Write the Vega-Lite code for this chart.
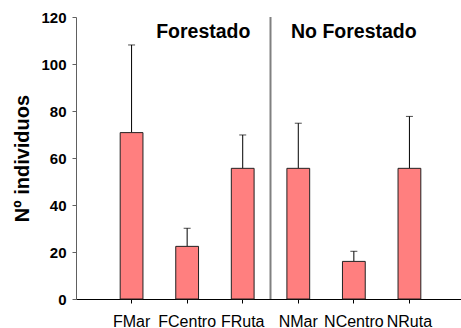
{
  "$schema": "https://vega.github.io/schema/vega-lite/v6.json",
  "width": 389,
  "height": 282,
  "padding": {"left": 12, "top": 10, "right": 0, "bottom": 0},
  "autosize": {"type": "pad"},
  "background": "white",
  "config": {"view": {"stroke": null}, "font": "Liberation Sans"},
  "datasets": {
    "bars": [
      {"sitio": "FMar", "media": 70.8, "sup": 108.1},
      {"sitio": "FCentro", "media": 22.4, "sup": 30.1},
      {"sitio": "FRuta", "media": 55.6, "sup": 69.8},
      {"sitio": "NMar", "media": 55.6, "sup": 74.8},
      {"sitio": "NCentro", "media": 16.0, "sup": 20.3},
      {"sitio": "NRuta", "media": 55.6, "sup": 77.7}
    ],
    "sep": [{"sitio": "FRuta", "y0": 0, "y1": 120}],
    "lab1": [{"sitio": "FCentro", "y": 113.5, "texto": "Forestado"}],
    "lab2": [{"sitio": "NCentro", "y": 113.5, "texto": "No Forestado"}]
  },
  "encoding": {
    "x": {
      "field": "sitio",
      "type": "nominal",
      "sort": ["FMar", "FCentro", "FRuta", "NMar", "NCentro", "NRuta"],
      "scale": {"paddingInner": 0, "paddingOuter": 0.5},
      "axis": {
        "title": null,
        "labelAngle": 0,
        "labelFontSize": 16,
        "labelColor": "black",
        "labelPadding": 10,
        "tickSize": 4,
        "tickColor": "black",
        "domainColor": "black",
        "grid": false
      }
    }
  },
  "layer": [
    {
      "data": {"name": "sep"},
      "mark": {"type": "rule", "color": "#808080", "strokeWidth": 2},
      "encoding": {
        "x": {"field": "sitio", "type": "nominal", "sort": ["FMar", "FCentro", "FRuta", "NMar", "NCentro", "NRuta"], "bandPosition": 1},
        "y": {"field": "y0", "type": "quantitative"},
        "y2": {"field": "y1"}
      }
    },
    {
      "data": {"name": "bars"},
      "mark": {"type": "rule", "color": "black", "strokeWidth": 1},
      "encoding": {
        "y": {"field": "media", "type": "quantitative"},
        "y2": {"field": "sup"}
      }
    },
    {
      "data": {"name": "bars"},
      "mark": {"type": "tick", "color": "black", "thickness": 1, "size": 7, "orient": "horizontal"},
      "encoding": {
        "y": {"field": "sup", "type": "quantitative"}
      }
    },
    {
      "data": {"name": "bars"},
      "mark": {"type": "bar", "fill": "#FF7F7F", "stroke": "#222", "strokeWidth": 1, "width": {"band": 0.41}},
      "encoding": {
        "y": {
          "field": "media",
          "type": "quantitative",
          "scale": {"domain": [0, 120], "nice": false},
          "axis": {
            "title": "Nº individuos",
            "titleFontSize": 20,
            "titleFontWeight": "bold",
            "titleColor": "black",
            "titlePadding": 8,
            "values": [0, 20, 40, 60, 80, 100, 120],
            "labelFontSize": 15,
            "labelFontWeight": "bold",
            "labelColor": "black",
            "labelPadding": 6,
            "tickSize": 4,
            "tickColor": "#606060",
            "domainColor": "#606060",
            "grid": false
          }
        }
      }
    },
    {
      "data": {"name": "lab1"},
      "mark": {"type": "text", "fontSize": 19.5, "fontWeight": "bold", "color": "black", "baseline": "middle", "align": "center"},
      "encoding": {
        "x": {"field": "sitio", "type": "nominal", "sort": ["FMar", "FCentro", "FRuta", "NMar", "NCentro", "NRuta"], "bandPosition": 0.79},
        "y": {"field": "y", "type": "quantitative"},
        "text": {"field": "texto"}
      }
    },
    {
      "data": {"name": "lab2"},
      "mark": {"type": "text", "fontSize": 19.5, "fontWeight": "bold", "color": "black", "baseline": "middle", "align": "center"},
      "encoding": {
        "x": {"field": "sitio", "type": "nominal", "sort": ["FMar", "FCentro", "FRuta", "NMar", "NCentro", "NRuta"], "bandPosition": 0.5},
        "y": {"field": "y", "type": "quantitative"},
        "text": {"field": "texto"}
      }
    }
  ]
}
